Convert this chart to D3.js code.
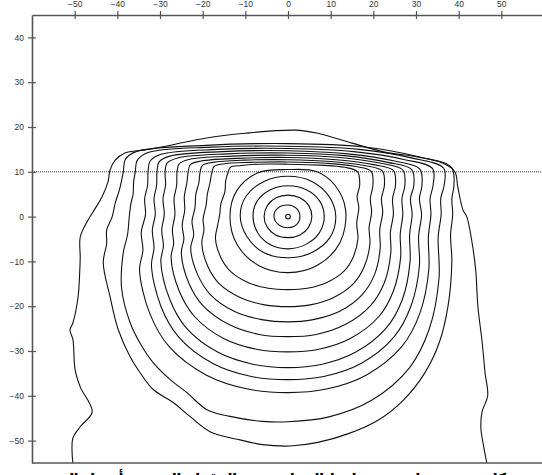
<!DOCTYPE html>
<html>
<head>
<meta charset="utf-8">
<script src="https://cdn.jsdelivr.net/npm/d3@7"></script>
<style>
  body { margin: 0; background: #fff; overflow: hidden; }
  svg { display: block; }
</style>
</head>
<body>
<script>
// tick labels
var xTicks = [-50, -40, -30, -20, -10, 0, 10, 20, 30, 40, 50];
var yTicks = [40, 30, 20, 10, 0, -10, -20, -30, -40, -50];
var refLineY = 10;

// centre point of the pattern
var centre = [0, 0];
var centreR = 0.55;

// closed rings round the centre (x, y in axis units)
var ring1 = [[0,2.6],[1.9,1.9],[2.8,0.1],[2.0,-1.8],[0.2,-2.5],[-2.2,-1.8],[-3.3,0.1],[-2.4,1.9]];
var ring2 = [[0,4.8],[2.8,4.2],[4.9,2.4],[5.6,0],[4.8,-2.4],[2.8,-4.1],[0,-4.7],[-2.9,-4.1],[-4.9,-2.3],[-5.6,0.1],[-4.8,2.5],[-2.8,4.2]];
var ring3 = [[0,6.9],[4.3,6.0],[7.4,3.5],[8.5,0],[7.3,-3.7],[4.2,-6.2],[0,-7.2],[-4.1,-6.3],[-7.1,-3.6],[-8.2,0.2],[-7.2,3.5],[-4.1,6.0]];
var ring4 = [[0,9.0],[5.7,7.8],[9.7,4.4],[11.2,0],[9.8,-4.7],[5.6,-8.0],[0,-9.2],[-5.7,-8.0],[-9.6,-4.5],[-11.2,0.2],[-9.8,4.6],[-5.5,7.9]];
var ring5 = [[0,10.5],[6.5,10.1],[11.0,7.0],[13.5,1.5],[12.2,-5.8],[7.0,-10.8],[0,-12.5],[-6.9,-10.9],[-11.9,-6.3],[-13.6,0],[-12.0,5.8],[-7.0,9.8]];

// loops whose tops bunch together in the band above y = 10
var loop1 = [[-13.5,11.0],[-11,11.4],[-7,11.7],[0,11.7],[7.5,11.5],[13.3,11.0],[16.3,10.0],[16.8,7],[16.2,4.5],[16.6,2],[16.1,-1.5],[16.4,-4.9],[15.3,-9.0],[13.2,-12.1],[9.1,-14.7],[4.5,-16.0],[0,-16.3],[-4.6,-16.0],[-9.4,-14.7],[-13.6,-12.1],[-15.8,-9.0],[-17.0,-4.9],[-16.5,-2],[-16.0,0.5],[-15.7,3],[-14.8,5.5],[-14.6,8],[-14.0,10]];
var loop2 = [[-17.3,11.2],[-14.8,11.8],[-8.9,12.1],[0,12.2],[8.9,11.9],[15.8,11.2],[19.5,10.1],[19.9,7],[19.3,4],[19.6,1],[19.0,-2.5],[19.2,-6.0],[17.9,-11.1],[15.4,-14.9],[10.6,-18.1],[5.2,-19.7],[0,-20.1],[-5.5,-19.7],[-11.1,-18.1],[-16.2,-14.9],[-18.8,-11.1],[-20.2,-6.0],[-19.7,-3],[-19.9,-0.5],[-19.2,2.5],[-18.9,5],[-18.3,7.5],[-17.8,10]];
var loop3 = [[-20.1,11.4],[-17.6,12.1],[-10.3,12.6],[0,12.7],[10.1,12.3],[17.9,11.4],[22.1,10.2],[22.6,7],[21.9,4],[22.2,1],[21.5,-3],[21.6,-7.1],[20.3,-12.9],[17.4,-17.4],[12.0,-21.2],[5.9,-23.0],[0,-23.5],[-6.2,-23.0],[-12.5,-21.2],[-18.2,-17.4],[-21.2,-12.9],[-22.8,-7.1],[-22.1,-4],[-22.5,-1],[-21.8,2],[-21.6,5],[-20.9,7.5],[-20.6,10]];
var loop4 = [[-22.9,11.6],[-20.4,12.4],[-11.7,13.0],[0,13.2],[11.3,12.7],[20,11.6],[24.7,10.3],[25.2,7],[24.5,4],[24.7,0.5],[24.0,-3.5],[24.1,-8.0],[22.6,-14.7],[19.4,-19.8],[13.4,-24.1],[6.6,-26.3],[0,-26.8],[-6.8,-26.3],[-13.8,-24.1],[-20.0,-19.8],[-23.3,-14.7],[-25.0,-8.0],[-24.4,-5],[-24.8,-2],[-24.2,1.5],[-24.3,4.5],[-23.7,7.5],[-23.4,10]];
var loop5 = [[-25.5,11.8],[-23,12.8],[-13,13.5],[0,13.7],[12.2,13.2],[21.8,11.9],[26.9,10.4],[27.4,7],[26.7,4],[26.9,0.5],[26.3,-4],[26.4,-9.1],[24.7,-16.6],[21.3,-22.3],[14.6,-27.2],[7.2,-29.6],[0,-30.2],[-7.4,-29.6],[-15.1,-27.2],[-21.9,-22.3],[-25.5,-16.6],[-27.4,-9.1],[-26.8,-6],[-27.1,-3],[-26.5,0.5],[-26.7,4],[-26.1,7],[-26.0,10]];
var loop6 = [[-28.3,12.0],[-25.8,13.1],[-14.4,14.0],[0,14.2],[13.2,13.6],[23.4,12.1],[29.0,10.5],[29.5,7],[28.7,4],[29.1,0.5],[28.5,-4],[28.6,-10.1],[26.8,-18.5],[23.0,-24.9],[15.8,-30.3],[7.8,-33.0],[0,-33.7],[-8.0,-33.0],[-16.4,-30.3],[-23.8,-24.9],[-27.7,-18.5],[-29.8,-10.1],[-29.2,-6.5],[-29.6,-3],[-29.0,0.5],[-29.3,4],[-28.7,7],[-28.8,10]];
var loop7 = [[-30.2,12.2],[-27.7,13.5],[-15.4,14.5],[0,14.7],[14.0,14.0],[25.0,12.4],[30.9,10.6],[31.4,7],[30.8,4],[31.3,0.5],[30.6,-4.5],[30.8,-10.9],[28.8,-20.0],[24.8,-26.9],[17.1,-32.8],[8.4,-35.7],[0,-36.4],[-8.6,-35.7],[-17.6,-32.8],[-25.6,-26.9],[-29.8,-20.0],[-32.0,-10.9],[-31.4,-7],[-31.8,-3],[-31.1,0.5],[-31.4,4],[-30.8,7],[-30.7,10]];
var loop8 = [[-32.3,12.4],[-29.8,13.9],[-16.4,15.0],[0,15.2],[15.4,14.5],[27.4,12.7],[33.9,10.7],[34.0,7],[33.3,4],[33.5,0.5],[32.9,-4.5],[33.0,-11.8],[30.9,-21.6],[26.6,-29.1],[18.3,-35.4],[9.0,-38.5],[0,-39.3],[-9.4,-38.5],[-19.1,-35.4],[-27.8,-29.1],[-32.4,-21.6],[-34.8,-11.8],[-34.0,-7.5],[-34.4,-3.5],[-33.4,0.5],[-33.6,4],[-32.9,7],[-32.8,10]];
var loop9 = [[-35.3,12.6],[-32.8,14.3],[-17.9,15.5],[0,15.7],[16.6,15.0],[29.4,13.0],[36.5,10.8],[36.6,7],[35.8,4],[35.9,0.5],[35.2,-4.5],[35.4,-13.7],[33.1,-25.1],[28.5,-33.7],[19.6,-41.0],[9.6,-44.7],[0,-45.8],[-6,-45.7],[-13.6,-44.6],[-19,-43.1],[-23.7,-39.3],[-27.6,-36.4],[-31.6,-32.6],[-34.7,-28.2],[-37,-23.7],[-39.0,-16],[-38.6,-8],[-37.6,-4],[-37.2,0],[-36.8,3],[-36.3,5],[-36.2,7.5],[-35.8,10]];
var loop10 = [[-38.1,12.8],[-35.6,14.5],[-19.3,15.9],[0,16.3],[17.4,15.6],[30.9,13.3],[38.3,11.0],[38.9,7],[38.4,4],[38.6,0.5],[38.1,-4],[38.4,-10],[37.5,-20],[35.5,-28],[32,-35],[27,-41],[21,-45.5],[14,-48.5],[7,-50.4],[0.5,-51.2],[-5.9,-50.9],[-11.9,-49.7],[-18.3,-48],[-23,-44.6],[-26.9,-41.5],[-31.6,-38.6],[-34.7,-34.8],[-37,-31.3],[-39.8,-25.2],[-41.7,-17.9],[-43.3,-10.3],[-42.5,-6],[-42.5,-3],[-41.2,0],[-40.5,3],[-39.5,6],[-38.6,10]];

// outermost line, open at the bottom
var outerLine = [[-50.4,-55],[-50.6,-52.8],[-50.4,-49.4],[-48.7,-46.9],[-45.9,-43.6],[-48.7,-38],[-49.9,-34.2],[-50.4,-27.5],[-51.1,-25.3],[-50.4,-23.7],[-49.2,-17.9],[-48.8,-12],[-48.7,-9.0],[-48.7,-4.6],[-47,-1],[-45.4,1.5],[-43.6,4.4],[-42.2,7.7],[-41.7,10.4],[-40.5,12.6],[-38.2,14.2],[-33.5,14.9],[-27.2,16.0],[-19.4,17.5],[-10.1,18.6],[1.6,19.3],[7.0,18.6],[15,16.4],[22.7,14.4],[30.4,13.3],[36.1,12.0],[39.1,10],[39.8,6.6],[41,1.5],[41.9,0],[43,-5],[44,-12],[44.5,-20],[45.5,-28],[46.2,-35],[46.8,-40],[45.5,-43.5],[45.2,-47],[45.8,-51],[46.6,-55]];

var closedLines = [ring1, ring2, ring3, ring4, ring5, loop1, loop2, loop3, loop4, loop5, loop6, loop7, loop8, loop9, loop10];

var caption = "شكل توضيحي لتوزيع خطوط التساوي في المقطع العرضي أسفل المصدر";

var width = 542, height = 475;
var svg = d3.select("body").append("svg")
    .attr("width", width)
    .attr("height", height);

var x = d3.scaleLinear().domain([-60, 60]).range([32, 544]);
var y = d3.scaleLinear().domain([-55, 45]).range([463, 15]);

var lineClosed = d3.line()
    .x(function (d) { return x(d[0]); })
    .y(function (d) { return y(d[1]); })
    .curve(d3.curveCatmullRomClosed.alpha(0.5));
var lineOpen = d3.line()
    .x(function (d) { return x(d[0]); })
    .y(function (d) { return y(d[1]); })
    .curve(d3.curveCatmullRom.alpha(0.5));

// dotted reference line
svg.append("line")
    .attr("x1", x(-60)).attr("x2", width)
    .attr("y1", y(refLineY)).attr("y2", y(refLineY))
    .attr("stroke", "#333")
    .attr("stroke-width", 1)
    .attr("stroke-dasharray", "1,1");

var plot = svg.append("g");
plot.selectAll("path.c")
    .data(closedLines)
    .enter().append("path")
    .attr("class", "c")
    .attr("d", lineClosed)
    .attr("fill", "none")
    .attr("stroke", "#111")
    .attr("stroke-width", 1.1);

plot.append("path")
    .attr("d", lineOpen(outerLine))
    .attr("fill", "none")
    .attr("stroke", "#111")
    .attr("stroke-width", 1.1);

plot.append("circle")
    .attr("cx", x(centre[0])).attr("cy", y(centre[1]))
    .attr("r", x(centreR) - x(0))
    .attr("fill", "none")
    .attr("stroke", "#111")
    .attr("stroke-width", 1.1);

// axes
var axisColor = "#555";
var topAxis = svg.append("g")
    .attr("transform", "translate(0," + y(45) + ")")
    .call(d3.axisTop(x).tickValues(xTicks).tickSize(4).tickSizeOuter(0).tickPadding(4));
topAxis.selectAll(".tick line").attr("y1", 4).attr("y2", -4);

var leftAxis = svg.append("g")
    .attr("transform", "translate(" + x(-60) + ",0)")
    .call(d3.axisLeft(y).tickValues(yTicks).tickSize(4).tickSizeOuter(0).tickPadding(4));
leftAxis.selectAll(".tick line").attr("x1", 4).attr("x2", -4);

[topAxis, leftAxis].forEach(function (g) {
    g.selectAll("path.domain").attr("stroke", axisColor).attr("stroke-width", 1.6);
    g.selectAll(".tick line").attr("stroke", axisColor).attr("stroke-width", 1.2);
    g.selectAll(".tick text")
        .attr("fill", "#333")
        .style("font-family", "'Liberation Sans', Arial, sans-serif")
        .style("font-size", "8.5px");
});

// bottom frame line
svg.append("line")
    .attr("x1", x(-60)).attr("x2", width)
    .attr("y1", y(-55)).attr("y2", y(-55))
    .attr("stroke", axisColor)
    .attr("stroke-width", 1.6);

// caption, mostly below the picture edge as in the source
svg.append("text")
    .attr("x", 275).attr("y", 484)
    .attr("text-anchor", "middle")
    .attr("direction", "rtl")
    .attr("textLength", 490)
    .attr("lengthAdjust", "spacing")
    .style("font-family", "'DejaVu Sans', 'Noto Sans', sans-serif")
    .style("font-weight", "bold")
    .style("font-size", "15px")
    .text(caption);
</script>
</body>
</html>
